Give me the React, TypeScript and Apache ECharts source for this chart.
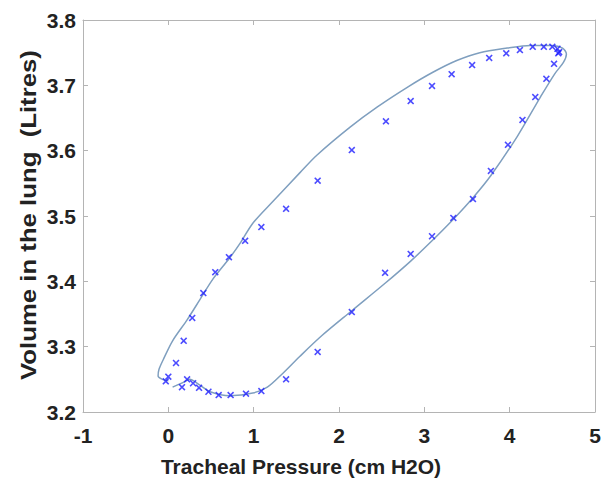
import React, { useEffect, useRef } from "react";
import * as echarts from "echarts";

const xTicks = [-1, 0, 1, 2, 3, 4, 5];
const yTicks = [3.2, 3.3, 3.4, 3.5, 3.6, 3.7, 3.8];

const measuredX = [
  -0.03, 0.0, 0.09, 0.18, 0.28, 0.41, 0.55, 0.71, 0.9, 1.09, 1.38, 1.75, 2.15, 2.55, 2.84, 3.09, 3.32, 3.56, 3.76, 3.96,
  4.12, 4.27, 4.4, 4.5, 4.56, 4.58, 4.57,
  4.52, 4.43, 4.3, 4.15, 3.98, 3.78, 3.57, 3.34, 3.09, 2.84, 2.54, 2.15, 1.75, 1.38, 1.09, 0.91, 0.73, 0.59, 0.47, 0.36,
  0.29, 0.22, 0.16,
];
const measuredY = [
  3.247, 3.254, 3.275, 3.309, 3.344, 3.382, 3.414, 3.437, 3.462, 3.483, 3.511, 3.554, 3.601, 3.645, 3.676, 3.699, 3.717,
  3.731, 3.742, 3.749, 3.754, 3.759, 3.759, 3.759, 3.756, 3.751, 3.749,
  3.733, 3.71, 3.682, 3.647, 3.609, 3.569, 3.526, 3.497, 3.469, 3.442, 3.413, 3.353, 3.292, 3.25, 3.232, 3.228, 3.226,
  3.226, 3.231, 3.237, 3.244, 3.25, 3.238,
];

const fitX = [
  0.05, 0.17, 0.25, 0.37, 0.49, 0.72, 0.99, 1.16, 1.34, 1.54, 1.8, 2.15, 2.54, 2.84, 3.09, 3.34, 3.57, 3.78, 4.09, 4.36,
  4.53, 4.63, 4.665, 4.62, 4.5, 4.24, 3.97, 3.65, 3.38, 3.1, 2.8, 2.45, 2.13, 1.74, 1.54, 1.23, 0.99, 0.85, 0.72, 0.52,
  0.37, 0.22, 0.05, -0.06, -0.11, -0.12, -0.07, 0.0,
];
const fitY = [
  3.238, 3.245, 3.25, 3.241, 3.231, 3.225, 3.229, 3.238, 3.259, 3.285, 3.317, 3.355, 3.397, 3.431, 3.462, 3.495, 3.528,
  3.562, 3.622, 3.682, 3.718, 3.735, 3.748, 3.757, 3.761, 3.761, 3.757, 3.75, 3.738, 3.72, 3.697, 3.667, 3.636, 3.593,
  3.566, 3.523, 3.489, 3.46, 3.436, 3.403, 3.372, 3.341, 3.309, 3.28, 3.265, 3.255, 3.25, 3.248,
];

const xName = "Tracheal Pressure (cm H2O)";
const yName = "Volume in the lung  (Litres)";

const FONT = "'Liberation Sans', Arial, Helvetica, sans-serif";
const AXIS_COLOR = "#b4b4b4";
const TEXT_COLOR = "#222222";
const X_MARK =
  "path://M0,1.6L1.6,0L5,3.4L8.4,0L10,1.6L6.6,5L10,8.4L8.4,10L5,6.6L1.6,10L0,8.4L3.4,5Z";

export default function App() {
  const ref = useRef<HTMLDivElement>(null);
  useEffect(() => {
    if (!ref.current) return;
    const chart = echarts.init(ref.current, undefined, { renderer: "svg" });
    const axisCommon = {
      axisLine: { show: true, onZero: false, lineStyle: { color: AXIS_COLOR, width: 1 } },
      axisTick: { show: true, inside: true, length: 5, lineStyle: { color: AXIS_COLOR } },
      splitLine: { show: false },
    };
    const labelStyle = { color: TEXT_COLOR, fontSize: 21, fontWeight: "bold" as const, fontFamily: FONT };
    chart.setOption({
      animation: false,
      backgroundColor: "#ffffff",
      grid: { left: 83, top: 20, width: 512, height: 392, containLabel: false },
      xAxis: [
        {
          type: "value",
          min: xTicks[0],
          max: xTicks[xTicks.length - 1],
          interval: 1,
          position: "bottom",
          ...axisCommon,
          axisLabel: { ...labelStyle, margin: 13, formatter: (v: number) => String(v) },
        },
        {
          type: "value",
          min: xTicks[0],
          max: xTicks[xTicks.length - 1],
          interval: 1,
          position: "top",
          ...axisCommon,
          axisLabel: { show: false },
        },
      ],
      yAxis: [
        {
          type: "value",
          min: yTicks[0],
          max: yTicks[yTicks.length - 1],
          interval: 0.1,
          position: "left",
          ...axisCommon,
          axisLabel: { ...labelStyle, margin: 7, formatter: (v: number) => v.toFixed(1) },
        },
        {
          type: "value",
          min: yTicks[0],
          max: yTicks[yTicks.length - 1],
          interval: 0.1,
          position: "right",
          ...axisCommon,
          axisLabel: { show: false },
        },
      ],
      series: [
        {
          type: "line",
          data: fitX.map((x, i) => [x, fitY[i]]),
          smooth: 0.3,
          showSymbol: false,
          symbol: "none",
          lineStyle: { color: "#7f9fbf", width: 1.5 },
          z: 2,
        },
        {
          type: "scatter",
          data: measuredX.map((x, i) => [x, measuredY[i]]),
          symbol: X_MARK,
          symbolSize: 7,
          itemStyle: { color: "#1f1fff" },
          z: 3,
        },
      ],
      graphic: [
        {
          type: "text",
          x: 301,
          y: 466,
          style: {
            text: xName,
            fontSize: 21,
            fontWeight: "bold",
            fontFamily: FONT,
            fill: TEXT_COLOR,
            align: "center",
            verticalAlign: "middle",
          },
        },
        {
          type: "text",
          x: 28,
          y: 215,
          rotation: Math.PI / 2,
          scaleX: 1.17,
          style: {
            text: yName,
            fontSize: 22,
            fontWeight: "bold",
            fontFamily: FONT,
            fill: TEXT_COLOR,
            align: "center",
            verticalAlign: "middle",
          },
        },
      ],
    });
    return () => chart.dispose();
  }, []);
  return (
    <div
      ref={ref}
      style={{ position: "absolute", left: 0, top: 0, width: 608, height: 481, background: "#fff" }}
    />
  );
}
